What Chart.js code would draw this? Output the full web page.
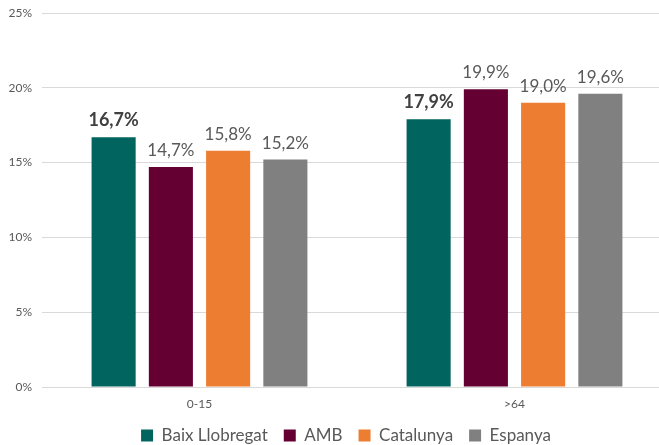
<!DOCTYPE html>
<html lang="ca">
<head>
    <meta charset="UTF-8">
    <title>Població per grups d'edat</title>
    <script src="https://cdn.jsdelivr.net/npm/chart.js"></script>
    <style>
        html, body { margin: 0; padding: 0; background: #fff; overflow: hidden; }
        .wrap { width: 692px; height: 456px; }
    </style>
</head>
<body>
    <div class="wrap"><canvas id="edatChart" width="692" height="456"></canvas></div>

    <script>
        const categories = ['0-15', '>64'];
        const seriesNames = ['Baix Llobregat', 'AMB', 'Catalunya', 'Espanya'];
        const baixLlobregat = [16.7, 17.9];
        const amb = [14.7, 19.9];
        const catalunya = [15.8, 19.0];
        const espanya = [15.2, 19.6];
        const yTicks = [0, 5, 10, 15, 20, 25];

        const colors = ['#02645f', '#650033', '#ed7d31', '#808080'];
        const fontFamily = 'Lato, "Open Sans", sans-serif';

        // etiquetes de valor sobre cada barra
        const valueLabels = {
            id: 'valueLabels',
            afterDatasetsDraw(chart) {
                const ctx = chart.ctx;
                ctx.save();
                ctx.textAlign = 'center';
                ctx.textBaseline = 'bottom';
                chart.data.datasets.forEach((ds, i) => {
                    const meta = chart.getDatasetMeta(i);
                    meta.data.forEach((bar, j) => {
                        const first = i === 0;
                        ctx.font = (first ? 'bold 18px ' : '17px ') + fontFamily;
                        ctx.fillStyle = first ? '#404040' : '#595959';
                        const txt = ds.data[j].toFixed(1).replace('.', ',') + '%';
                        ctx.fillText(txt, bar.x, bar.y - 8);
                    });
                });
                ctx.restore();
            }
        };

        const ctx = document.getElementById('edatChart').getContext('2d');
        new Chart(ctx, {
            type: 'bar',
            data: {
                labels: categories,
                datasets: [baixLlobregat, amb, catalunya, espanya].map((d, i) => ({
                    label: seriesNames[i],
                    data: d,
                    backgroundColor: colors[i],
                    categoryPercentage: 0.727,
                    barPercentage: 0.77
                }))
            },
            options: {
                responsive: false,
                animation: false,
                layout: { padding: { top: 13, left: 0, right: 0, bottom: 2 } },
                plugins: {
                    tooltip: { enabled: false },
                    legend: {
                        position: 'bottom',
                        labels: {
                            boxWidth: 12,
                            boxHeight: 12,
                            padding: 16,
                            color: '#595959',
                            font: { family: fontFamily, size: 17 }
                        }
                    }
                },
                scales: {
                    x: {
                        afterFit(scale) { scale.height = 24; },
                        grid: { display: false, drawTicks: false },
                        border: { color: '#d9d9d9' },
                        ticks: {
                            padding: 10,
                            color: '#595959',
                            font: { family: fontFamily, size: 12 }
                        }
                    },
                    y: {
                        min: 0,
                        max: 25,
                        afterFit(scale) {
                            scale.width = 42;
                            scale.paddingTop = 0;
                            scale.paddingBottom = 0;
                        },
                        afterBuildTicks(scale) { scale.ticks = yTicks.map(v => ({ value: v })); },
                        grid: { color: '#d9d9d9', drawTicks: false },
                        border: { display: false },
                        ticks: {
                            padding: 10,
                            color: '#595959',
                            font: { family: fontFamily, size: 12 },
                            callback: v => v + '%'
                        }
                    },
                    // eix buit a la dreta, només per reservar espai
                    yRight: {
                        position: 'right',
                        afterFit(scale) {
                            scale.width = 20;
                            scale.paddingTop = 0;
                            scale.paddingBottom = 0;
                        },
                        grid: { display: false, drawTicks: false },
                        border: { display: false },
                        ticks: { display: false }
                    }
                }
            },
            plugins: [valueLabels]
        });
    </script>
</body>
</html>
